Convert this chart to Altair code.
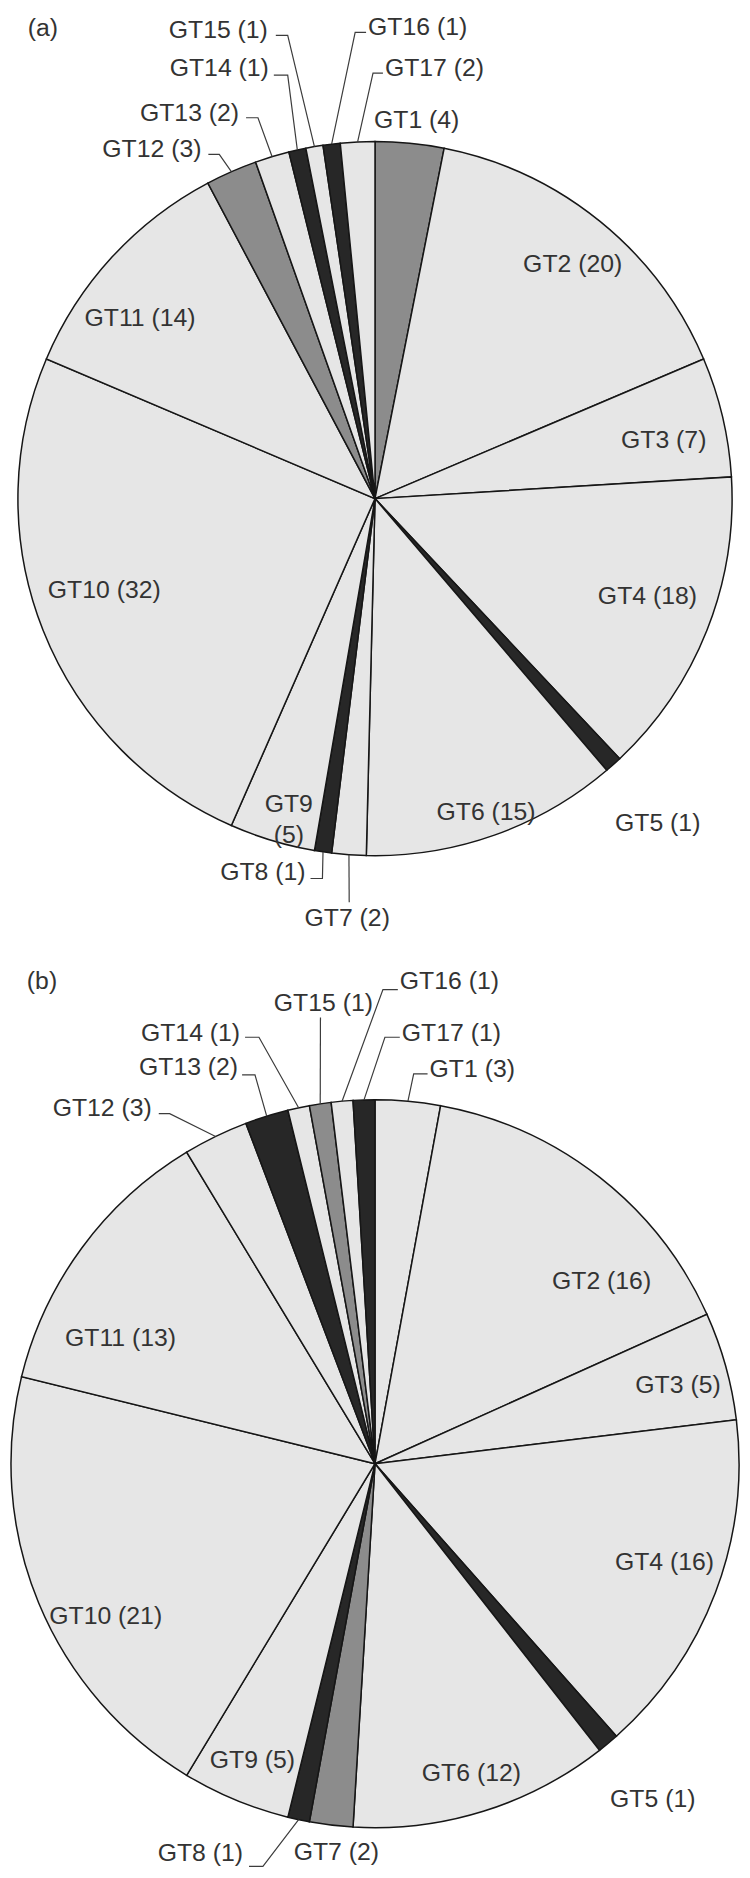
import math
import altair as alt
import pandas as pd

# ---------------- data ----------------
names = ["GT1", "GT2", "GT3", "GT4", "GT5", "GT6", "GT7", "GT8", "GT9",
         "GT10", "GT11", "GT12", "GT13", "GT14", "GT15", "GT16", "GT17"]
values_a = [4, 20, 7, 18, 1, 15, 2, 1, 5, 32, 14, 3, 2, 1, 1, 1, 2]
values_b = [3, 16, 5, 16, 1, 12, 2, 1, 5, 21, 13, 3, 2, 1, 1, 1, 1]
shades_a = ["mid", "light", "light", "light", "dark", "light", "light", "dark", "light",
            "light", "light", "mid", "light", "dark", "light", "dark", "light"]
shades_b = ["light", "light", "light", "light", "dark", "light", "mid", "dark", "light",
            "light", "light", "light", "dark", "light", "mid", "light", "dark"]
panel_titles = ["(a)", "(b)"]

# ---------------- styles / layout ----------------
SHADE_COLORS = {"light": "#e6e6e6", "mid": "#8c8c8c", "dark": "#272727"}
FONT = "Liberation Sans"
FONT_SIZE = 25
TEXT_COLOR = "#333333"
PAGE_MARGIN = 8
PANEL_W = 734

PANELS = [
    dict(top=8, height=950, cx=375, cy=492, r=360, title_xy=(25, 18)),
    dict(top=958, height=912, cx=375, cy=1465, r=367, title_xy=(24, 978)),
]

# label placement: ("in", angle offset deg, radius fraction[, two_lines])
#                  ("out", x, y, align, [leader points after the slice edge])   (page coords)
LAYOUT_A = {
    "GT1": ("out", 374, 110, "left", []),
    "GT2": ("in", 1, 0.86),
    "GT3": ("in", 1.8, 0.825),
    "GT4": ("in", -2, 0.81),
    "GT5": ("out", 617, 819, "left", []),
    "GT6": ("in", 0, 0.93),
    "GT7": ("out", 347, 915, "center", [(349, 899)]),
    "GT8": ("out", 305, 868, "right", [(322, 875), (310, 875)]),
    "GT9": ("in", -1, 0.89, True),
    "GT10": ("in", 3, 0.80),
    "GT11": ("in", -5, 0.83),
    "GT12": ("out", 200, 140, "right", [(218, 145), (207, 145)]),
    "GT13": ("out", 238, 103, "right", [(257, 108), (245, 108)]),
    "GT14": ("out", 268, 58, "right", [(287, 65), (273, 65)]),
    "GT15": ("out", 267, 20, "right", [(287, 25), (275, 25)]),
    "GT16": ("out", 368, 17, "left", [(355, 22), (366, 22)]),
    "GT17": ("out", 385, 58, "left", [(373, 63), (383, 63)]),
}
LAYOUT_B = {
    "GT1": ("out", 430, 1067, "left", [(414, 1072), (428, 1072)]),
    "GT2": ("in", 13, 0.8),
    "GT3": ("in", 1, 0.86),
    "GT4": ("in", -2, 0.84),
    "GT5": ("out", 612, 1803, "left", []),
    "GT6": ("in", 0, 0.89),
    "GT7": ("out", 336, 1856, "center", []),
    "GT8": ("out", 242, 1858, "right", [(262, 1871), (248, 1871)]),
    "GT9": ("in", 0, 0.88),
    "GT10": ("in", -7, 0.85),
    "GT11": ("in", -10, 0.78),
    "GT12": ("out", 150, 1106, "right", [(168, 1112), (157, 1112)]),
    "GT13": ("out", 237, 1065, "right", [(254, 1073), (241, 1073)]),
    "GT14": ("out", 239, 1031, "right", [(258, 1035), (244, 1035)]),
    "GT15": ("out", 323, 1001, "center", [(320, 1015)]),
    "GT16": ("out", 400, 978, "left", [(383, 987), (398, 987)]),
    "GT17": ("out", 402, 1031, "left", [(385, 1035), (400, 1035)]),
}


def build_panel(values, shades, layout, P, title):
    ox, oy = PAGE_MARGIN, P["top"]
    cx, cy, R = P["cx"], P["cy"], P["r"]
    total = sum(values)

    slices = pd.DataFrame({
        "name": names,
        "value": values,
        "idx": list(range(len(names))),
        "color": [SHADE_COLORS[s] for s in shades],
    })

    arcs = alt.Chart(slices).mark_arc(
        radius=R, stroke="#161616", strokeWidth=1.5
    ).encode(
        theta=alt.Theta("value:Q", stack=True),
        color=alt.Color("color:N", scale=None),
        order=alt.Order("idx:Q", sort="ascending"),
        x=alt.value(cx - ox),
        y=alt.value(cy - oy),
    )

    labels = []
    leaders = []
    cum = 0
    for name, v in zip(names, values):
        mid = (cum + v / 2) / total * 2 * math.pi
        cum += v
        spec = layout[name]
        txt = f"{name} ({v})"
        if spec[0] == "in":
            th = mid + math.radians(spec[1])
            rr = spec[2] * R
            x = cx + rr * math.sin(th)
            y = cy - rr * math.cos(th)
            if len(spec) > 3 and spec[3]:
                txt = f"{name}\n({v})"
            labels.append(dict(label=txt, x=x - ox, y=y - oy, align="center"))
        else:
            _, tx, ty, align, pts = spec
            labels.append(dict(label=txt, x=tx - ox, y=ty - oy, align=align))
            if pts:
                ex = cx + R * math.sin(mid)
                ey = cy - R * math.cos(mid)
                seq = [(ex, ey)] + list(pts)
                for k, (px, py) in enumerate(seq):
                    leaders.append(dict(name=name, seq=k, x=px - ox, y=py - oy))

    lab_df = pd.DataFrame(labels)
    layers = [arcs]

    if leaders:
        lead = alt.Chart(pd.DataFrame(leaders)).mark_line(
            color="#3c3c3c", strokeWidth=1.2
        ).encode(
            x=alt.X("x:Q", scale=None, axis=None),
            y=alt.Y("y:Q", scale=None, axis=None),
            detail="name:N",
            order="seq:Q",
        )
        layers.append(lead)

    for align in ["left", "center", "right"]:
        sub = lab_df[lab_df["align"] == align]
        if len(sub) == 0:
            continue
        t = alt.Chart(sub).mark_text(
            align=align, baseline="middle", font=FONT, fontSize=FONT_SIZE,
            color=TEXT_COLOR, lineBreak="\n", lineHeight=31
        ).encode(
            x=alt.X("x:Q", scale=None, axis=None),
            y=alt.Y("y:Q", scale=None, axis=None),
            text="label:N",
        )
        layers.append(t)

    tdf = pd.DataFrame([dict(label=title, x=P["title_xy"][0] - ox, y=P["title_xy"][1] - oy)])
    layers.append(
        alt.Chart(tdf).mark_text(
            align="left", baseline="middle", font=FONT, fontSize=FONT_SIZE, color=TEXT_COLOR
        ).encode(
            x=alt.X("x:Q", scale=None, axis=None),
            y=alt.Y("y:Q", scale=None, axis=None),
            text="label:N",
        )
    )

    return alt.layer(*layers).properties(width=PANEL_W, height=P["height"])


pa = build_panel(values_a, shades_a, LAYOUT_A, PANELS[0], panel_titles[0])
pb = build_panel(values_b, shades_b, LAYOUT_B, PANELS[1], panel_titles[1])

chart = alt.vconcat(pa, pb, spacing=0).properties(
    padding=0, background="white"
).configure_view(stroke=None)

chart.save("out.html", embed_options={"renderer": "svg", "actions": False})
